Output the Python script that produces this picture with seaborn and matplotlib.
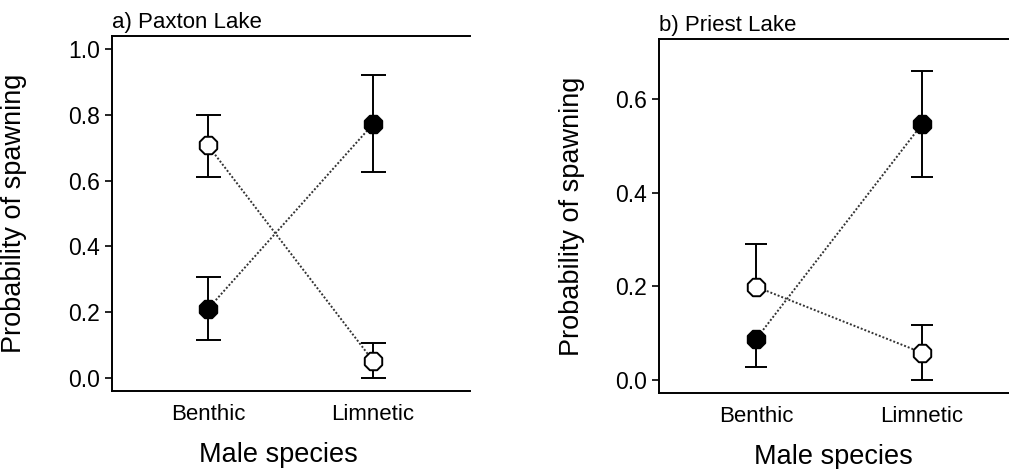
import numpy as np
import pandas as pd
import matplotlib
matplotlib.use("Agg")
import matplotlib.pyplot as plt
import seaborn as sns

# ---------------- data ----------------
male_species = ["Benthic", "Limnetic"]

# a) Paxton Lake
paxton_filled = [0.210, 0.772]
paxton_filled_lo = [0.115, 0.627]
paxton_filled_hi = [0.306, 0.920]
paxton_open = [0.707, 0.052]
paxton_open_lo = [0.612, 0.000]
paxton_open_hi = [0.799, 0.105]

# b) Priest Lake (benthic-male bars are one-sided in the original)
priest_filled = [0.087, 0.546]
priest_filled_lo = [0.027, 0.433]
priest_filled_hi = [0.087, 0.660]
priest_open = [0.199, 0.058]
priest_open_lo = [0.199, 0.000]
priest_open_hi = [0.291, 0.118]

paxton_yticks = [0.0, 0.2, 0.4, 0.6, 0.8, 1.0]
priest_yticks = [0.0, 0.2, 0.4, 0.6]

# ---------------- style ----------------
sns.set_style("ticks")
plt.rcParams["font.family"] = ["Liberation Sans", "DejaVu Sans"]
plt.rcParams["text.color"] = "black"
plt.rcParams["axes.labelcolor"] = "black"
plt.rcParams["xtick.color"] = "black"
plt.rcParams["ytick.color"] = "black"

fig = plt.figure(figsize=(10.09, 4.69), dpi=100)
ax_a = fig.add_axes([112 / 1009, 1 - 391 / 469, (470 - 112) / 1009, (391 - 36) / 469])
ax_b = fig.add_axes([659 / 1009, 1 - 393 / 469, (1009 - 659) / 1009, (393 - 39) / 469])

xpos = np.arange(len(male_species))


def draw_panel(ax, filled, flo, fhi, opn, olo, ohi, yticks, ylim, xlim, title,
               ylab_x, xlab_x, capsize):
    for vals, lo, hi, face in [(filled, flo, fhi, "black"), (opn, olo, ohi, "white")]:
        vals = np.asarray(vals, dtype=float)
        lo = np.asarray(lo, dtype=float)
        hi = np.asarray(hi, dtype=float)
        err = np.vstack([vals - lo, hi - vals])
        cont = ax.errorbar(xpos, vals, yerr=err, fmt="none", ecolor="black",
                           elinewidth=1.4, capsize=capsize, capthick=1.4, zorder=2)
        # drop caps of zero-length (one-sided) bars
        for cap in cont.lines[1]:
            yd = np.asarray(cap.get_ydata(), dtype=float)
            yd = np.where(np.isclose(yd, vals), np.nan, yd)
            cap.set_ydata(yd)
        df = pd.DataFrame({"x": xpos, "p": vals})
        sns.lineplot(data=df, x="x", y="p", ax=ax, color="0.2",
                     linestyle=(0, (1, 1)), linewidth=1.4, zorder=3)
        sns.scatterplot(data=df, x="x", y="p", ax=ax, marker="8", s=185,
                        facecolor=face, edgecolor="black", linewidth=1.4,
                        zorder=4)
    ax.set_xlim(*xlim)
    ax.set_ylim(*ylim)
    ax.set_xticks(xpos)
    ax.set_xticklabels(male_species, fontsize=16)
    ax.set_yticks(yticks)
    ax.set_yticklabels([f"{t:.1f}" for t in yticks], fontsize=16.5)
    ax.tick_params(axis="x", length=0, pad=9)
    ax.tick_params(axis="y", length=5, width=1.2, pad=3.5, color="black")
    for s in ["left", "bottom", "top"]:
        ax.spines[s].set_linewidth(1.4)
        ax.spines[s].set_color("black")
    ax.spines["right"].set_visible(False)
    ax.set_title(title, loc="left", fontsize=16, pad=6, color="black")
    ax.set_ylabel("Probability of spawning", fontsize=19.5)
    ax.set_xlabel("Male species", fontsize=19.5)
    ax.yaxis.set_label_coords(ylab_x, 0.5)
    ax.xaxis.set_label_coords(xlab_x, -0.143)
    ax.grid(False)


draw_panel(ax_a, paxton_filled, paxton_filled_lo, paxton_filled_hi,
           paxton_open, paxton_open_lo, paxton_open_hi,
           paxton_yticks, (-0.04, 1.04), (-0.582, 1.588), "a) Paxton Lake",
           -0.237, 0.464, 9)
draw_panel(ax_b, priest_filled, priest_filled_lo, priest_filled_hi,
           priest_open, priest_open_lo, priest_open_hi,
           priest_yticks, (-0.028, 0.728), (-0.584, 1.524), "b) Priest Lake",
           -0.211, 0.499, 8)

fig.savefig("out.png", dpi=100)
